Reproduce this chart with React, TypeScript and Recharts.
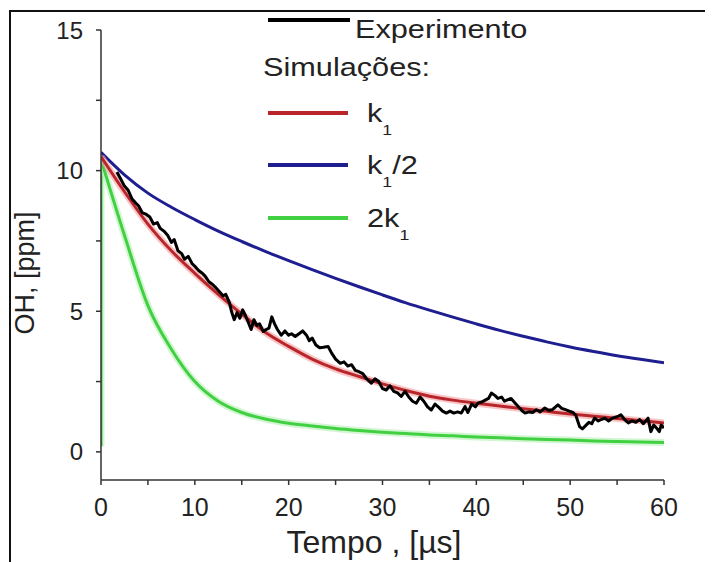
import { LineChart, Line, XAxis, YAxis } from "recharts";

// OH decay after the pulse: measured trace and three simulated rate constants
const simTime = [0, 2.5, 5, 7.5, 10, 12.5, 15, 17.5, 20, 22.5, 25, 27.5, 30, 32.5, 35, 37.5, 40, 42.5, 45, 47.5, 50, 52.5, 55, 57.5, 60];
const simK1 = [10.5, 9.25, 8.1, 7.15, 6.35, 5.6, 4.9, 4.25, 3.75, 3.3, 2.95, 2.68, 2.42, 2.18, 1.98, 1.84, 1.73, 1.63, 1.53, 1.44, 1.35, 1.27, 1.19, 1.11, 1.03];
const simHalfK1 = [10.65, 9.85, 9.2, 8.7, 8.26, 7.85, 7.48, 7.13, 6.8, 6.48, 6.17, 5.87, 5.58, 5.3, 5.04, 4.79, 4.55, 4.32, 4.11, 3.91, 3.73, 3.57, 3.42, 3.29, 3.17];
const simTwoK1 = [10.4, 7.7, 5.2, 3.65, 2.5, 1.8, 1.4, 1.17, 1.02, 0.92, 0.83, 0.76, 0.7, 0.65, 0.6, 0.57, 0.53, 0.5, 0.47, 0.44, 0.42, 0.39, 0.37, 0.35, 0.33];
const twoK1RiseOH = [0.2, 10.4];

const expTime = [
  1.7, 2.1, 2.5, 2.9, 3.3, 3.7, 4.0, 4.4, 4.8, 5.2, 5.6, 6.0, 6.3, 6.7, 7.1, 7.5, 7.8, 8.2, 8.6, 8.9,
  9.3, 9.7, 10.0, 10.4, 10.8, 11.1, 11.5, 11.9, 12.2, 12.6, 13.0, 13.3, 13.7, 13.9, 14.2, 14.5, 14.8, 15.1, 15.4, 15.7,
  16.0, 16.3, 16.6, 16.9, 17.3, 17.6, 17.9, 18.2, 18.5, 18.8, 19.2, 19.6, 20.0, 20.3, 20.7, 21.1, 21.5, 21.9, 22.2, 22.5,
  22.9, 23.3, 23.7, 24.2, 24.6, 25.0, 25.5, 25.9, 26.3, 26.7, 27.1, 27.5, 27.9, 28.3, 28.8, 29.2, 29.6, 30.0, 30.4, 30.8,
  31.2, 31.6, 32.0, 32.4, 32.8, 33.2, 33.6, 34.0, 34.4, 34.8, 35.2, 35.6, 36.0, 36.4, 36.8, 37.2, 37.6, 38.0, 38.4, 38.8,
  39.1, 39.5, 39.9, 40.2, 40.6, 41.0, 41.3, 41.6, 42.0, 42.3, 42.7, 43.0, 43.3, 43.7, 44.1, 44.5, 44.9, 45.2, 45.6, 46.0,
  46.4, 46.8, 47.3, 47.7, 48.1, 48.7, 49.1, 49.5, 49.9, 50.3, 50.6, 51.0, 51.3, 51.7, 52.0, 52.3, 52.6, 53.0, 53.3, 53.7,
  54.1, 54.5, 55.0, 55.4, 55.8, 56.2, 56.6, 57.0, 57.4, 57.8, 58.1, 58.3, 58.6, 58.9, 59.2, 59.5, 59.7, 60.0,
];
const expOH = [
  9.95, 9.7, 9.45, 9.3, 9.0, 8.85, 8.75, 8.5, 8.45, 8.35, 8.1, 8.15, 7.95, 7.85, 7.7, 7.45, 7.55, 7.15, 7.05, 6.85,
  6.95, 6.7, 6.6, 6.45, 6.35, 6.25, 6.05, 5.95, 5.85, 5.7, 5.55, 5.6, 5.3, 5.0, 4.7, 4.95, 4.75, 5.05, 4.85, 4.6,
  4.35, 4.7, 4.5, 4.55, 4.28, 4.35, 4.4, 4.8, 4.55, 4.35, 4.15, 4.3, 4.15, 4.2, 4.1, 4.2, 4.3, 4.15, 3.95, 4.05,
  3.8, 3.7, 3.72, 3.75, 3.5, 3.3, 3.15, 3.2, 3.05, 3.1, 2.9, 2.85, 2.78, 2.6, 2.44, 2.6, 2.5, 2.25, 2.2, 2.35,
  2.15, 2.1, 1.97, 2.15, 1.95, 1.8, 1.73, 1.95, 1.8, 1.6, 1.49, 1.7, 1.58, 1.45, 1.38, 1.45, 1.38, 1.42, 1.38, 1.61,
  1.4, 1.7, 1.6, 1.74, 1.78, 1.85, 1.9, 2.09, 2.0, 1.9, 1.95, 1.8, 1.85, 1.9, 1.75, 1.6, 1.45, 1.38, 1.42, 1.4,
  1.5, 1.42, 1.56, 1.48, 1.5, 1.67, 1.55, 1.5, 1.45, 1.4, 1.3, 0.9, 0.82, 0.95, 1.05, 1.0, 1.2, 1.1, 1.15, 1.2,
  1.1, 1.2, 1.25, 1.32, 1.15, 1.03, 1.1, 1.05, 1.15, 1.0, 1.12, 1.2, 0.72, 0.95, 0.85, 0.72, 0.95, 0.85,
];

const xTicks = [0, 5, 10, 15, 20, 25, 30, 35, 40, 45, 50, 55, 60];
const yTicks = [0, 2.5, 5, 7.5, 10, 12.5, 15];

const expData = expTime.map((t, i) => ({ t, oh: expOH[i] }));
const k1Data = simTime.map((t, i) => ({ t, oh: simK1[i] }));
const halfData = simTime.map((t, i) => ({ t, oh: simHalfK1[i] }));
const twoData = simTime.map((t, i) => ({ t, oh: simTwoK1[i] }));
const riseData = twoK1RiseOH.map((oh) => ({ t: 0, oh }));

const FONT = "'Liberation Sans', Arial, sans-serif";
const TEXT = "#222";
const RED = "#b8262b";
const BLUE = "#1e1e90";
const GREEN = "#41d041";

const XTick = ({ x, y, payload }: any) =>
  payload.value % 10 === 0 ? (
    <text x={x} y={y} dy="0.71em" textAnchor="middle" fontSize={25} fill={TEXT} fontFamily={FONT}>
      {payload.value}
    </text>
  ) : (
    <g />
  );

const YTick = ({ x, y, payload }: any) =>
  payload.value % 5 === 0 ? (
    <text x={x} y={y} dy="0.355em" textAnchor="end" fontSize={24} fill={TEXT} fontFamily={FONT}>
      {payload.value}
    </text>
  ) : (
    <g />
  );

const Sub = () => <span style={{ fontSize: 15, position: "relative", top: 13 }}>1</span>;

const legendRows = [
  { key: "red", color: RED, lineY: 105, top: 92, label: <>k<Sub /></> },
  { key: "blue", color: BLUE, lineY: 157, top: 144, label: <>k<Sub />/2</> },
  { key: "green", color: GREEN, lineY: 210, top: 197, label: <>2k<Sub /></> },
];

const textStyle = {
  position: "absolute" as const,
  fontFamily: FONT,
  fontSize: 26,
  lineHeight: 1,
  color: TEXT,
  whiteSpace: "nowrap" as const,
  transform: "scaleX(1.18)",
  transformOrigin: "left center",
};

export default function App() {
  return (
    <div style={{ position: "relative", width: 705, height: 554, overflow: "hidden", background: "#fff" }}>
      <style>{"body{overflow:hidden}"}</style>
      <div
        style={{
          position: "absolute",
          left: 1,
          top: 2,
          width: 800,
          height: 700,
          borderLeft: "2px solid #111",
          borderTop: "2px solid #111",
        }}
      />
      <LineChart width={697} height={554} margin={{ top: 22, right: 41, bottom: 42, left: 33 }}>
        <XAxis
          type="number"
          dataKey="t"
          domain={[0, 60]}
          ticks={xTicks}
          interval={0}
          height={40}
          tickSize={5}
          tickMargin={13}
          tick={<XTick />}
          axisLine={{ stroke: "#333", strokeWidth: 1.5 }}
          tickLine={{ stroke: "#333", strokeWidth: 1.5 }}
          allowDataOverflow
        />
        <YAxis
          type="number"
          domain={[-1, 15]}
          ticks={yTicks}
          interval={0}
          width={60}
          tickSize={5}
          tickMargin={13}
          tick={<YTick />}
          axisLine={{ stroke: "#333", strokeWidth: 1.5 }}
          tickLine={{ stroke: "#333", strokeWidth: 1.5 }}
          allowDataOverflow
        />
        <Line data={riseData} dataKey="oh" type="linear" stroke="#b4f0b4" strokeWidth={7} strokeOpacity={0.6} dot={false} isAnimationActive={false} />
        <Line data={riseData} dataKey="oh" type="linear" stroke={GREEN} strokeWidth={3} dot={false} isAnimationActive={false} />
        <Line data={twoData} dataKey="oh" type="monotone" stroke="#b4f0b4" strokeWidth={7} strokeOpacity={0.6} dot={false} isAnimationActive={false} />
        <Line data={twoData} dataKey="oh" type="monotone" stroke={GREEN} strokeWidth={3} dot={false} isAnimationActive={false} />
        <Line data={halfData} dataKey="oh" type="monotone" stroke={BLUE} strokeWidth={3} dot={false} isAnimationActive={false} />
        <Line data={k1Data} dataKey="oh" type="monotone" stroke="#f4a0a0" strokeWidth={7} strokeOpacity={0.6} dot={false} isAnimationActive={false} />
        <Line data={k1Data} dataKey="oh" type="monotone" stroke={RED} strokeWidth={3} dot={false} isAnimationActive={false} />
        <Line data={expData} dataKey="oh" type="linear" stroke="#000" strokeWidth={3} strokeLinejoin="round" dot={false} isAnimationActive={false} />
      </LineChart>

      {/* legend */}
      <div style={{ position: "absolute", left: 260, top: 10, width: 82, height: 4, background: "#000" }} />
      <div style={{ ...textStyle, left: 347, top: 8 }}>Experimento</div>
      <div style={{ ...textStyle, left: 255, top: 46 }}>Simulações:</div>
      {legendRows.map((r) => (
        <div key={r.key}>
          <div style={{ position: "absolute", left: 260, top: r.lineY - 2, width: 80, height: 4, background: r.color }} />
          <div style={{ ...textStyle, left: 359, top: r.top }}>{r.label}</div>
        </div>
      ))}

      {/* axis titles */}
      <div
        style={{
          position: "absolute",
          left: 366,
          top: 518,
          transform: "translateX(-50%)",
          fontFamily: FONT,
          fontSize: 32,
          lineHeight: 1,
          color: TEXT,
          whiteSpace: "nowrap",
        }}
      >
        Tempo , [µs]
      </div>
      <div
        style={{
          position: "absolute",
          left: 17,
          top: 265,
          transform: "translate(-50%, -50%) rotate(-90deg)",
          fontFamily: FONT,
          fontSize: 27,
          lineHeight: 1,
          color: TEXT,
          whiteSpace: "nowrap",
        }}
      >
        OH, [ppm]
      </div>
    </div>
  );
}
